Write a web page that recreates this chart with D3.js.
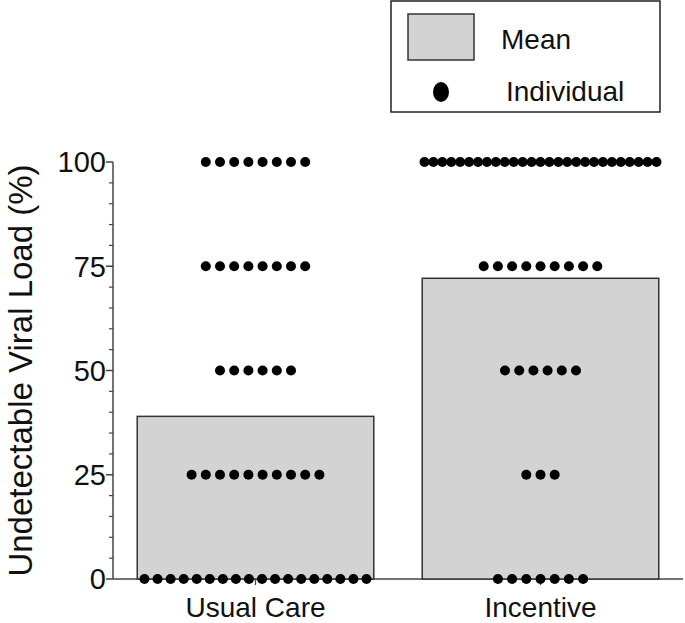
<!DOCTYPE html>
<html>
<head>
<meta charset="utf-8">
<script src="https://cdn.jsdelivr.net/npm/d3@7"></script>
<style>
  body { margin: 0; background: #fff; }
  text { font-family: "Liberation Sans", Arial, sans-serif; fill: #111; }
</style>
</head>
<body>
<svg id="chart" width="685" height="623"></svg>
<script>
// data
const groups = ["Usual Care", "Incentive"];
const levels = [0, 25, 50, 75, 100];
// number of individuals at each level (same order as levels)
const usualCareCounts = [18, 10, 6, 8, 8];
const incentiveCounts = [7, 3, 6, 9, 27];
const yTicks = [0, 25, 50, 75, 100];
const yLabel = "Undetectable Viral Load (%)";

const counts = [usualCareCounts, incentiveCounts];

var svg = d3.select("#chart");
var plotLeft = 113, plotRight = 683, plotTop = 162, plotBottom = 579;

var x = d3.scaleBand()
    .domain(groups)
    .range([plotLeft, plotRight])
    .paddingInner(0.17)
    .paddingOuter(0.085);

var y = d3.scaleLinear()
    .domain([0, 100])
    .range([plotBottom, plotTop]);

// means from the individual counts
var means = counts.map(c => {
    var n = d3.sum(c);
    return d3.sum(c, (k, i) => k * levels[i]) / n;
});

// y axis
var yAxis = svg.append("g")
    .attr("transform", "translate(" + plotLeft + ",0)");
yAxis.append("line")
    .attr("y1", y(0)).attr("y2", y(100))
    .attr("stroke", "#444").attr("stroke-width", 1.5);
yAxis.selectAll(".minor")
    .data(d3.range(0, 101, 5).filter(v => v % 25 != 0))
    .enter().append("line")
    .attr("x1", -4).attr("x2", 0)
    .attr("y1", d => y(d)).attr("y2", d => y(d))
    .attr("stroke", "#444").attr("stroke-width", 1.2);
yAxis.selectAll(".major")
    .data(yTicks)
    .enter().append("line")
    .attr("x1", -7).attr("x2", 0)
    .attr("y1", d => y(d)).attr("y2", d => y(d))
    .attr("stroke", "#444").attr("stroke-width", 1.5);
yAxis.selectAll("text")
    .data(yTicks)
    .enter().append("text")
    .attr("x", -7)
    .attr("y", d => y(d))
    .attr("dy", "0.36em")
    .attr("text-anchor", "end")
    .style("font-size", "29px")
    .text(d => d);

svg.append("text")
    .attr("transform", "translate(32," + ((plotTop + plotBottom) / 2) + ") rotate(-90)")
    .attr("text-anchor", "middle")
    .style("font-size", "33px")
    .text(yLabel);

// x axis
svg.append("line")
    .attr("x1", plotLeft).attr("x2", plotRight)
    .attr("y1", plotBottom).attr("y2", plotBottom)
    .attr("stroke", "#444").attr("stroke-width", 1.5);
svg.selectAll(".xtick")
    .data(groups)
    .enter().append("line")
    .attr("x1", d => x(d) + x.bandwidth() / 2)
    .attr("x2", d => x(d) + x.bandwidth() / 2)
    .attr("y1", plotBottom).attr("y2", plotBottom + 6)
    .attr("stroke", "#444").attr("stroke-width", 1.2);
svg.selectAll(".xlabel")
    .data(groups)
    .enter().append("text")
    .attr("x", d => x(d) + x.bandwidth() / 2)
    .attr("y", 617)
    .attr("text-anchor", "middle")
    .style("font-size", "28px")
    .text(d => d);

// mean bars
svg.selectAll(".bar")
    .data(groups)
    .enter().append("rect")
    .attr("x", d => x(d))
    .attr("width", x.bandwidth())
    .attr("y", (d, i) => y(means[i]))
    .attr("height", (d, i) => y(0) - y(means[i]))
    .attr("fill", "#d3d3d3")
    .attr("stroke", "#333")
    .attr("stroke-width", 1.5);

// individual dots, each row centred on its group
var dots = [];
groups.forEach((g, gi) => {
    var cx = x(g) + x.bandwidth() / 2;
    levels.forEach((lv, li) => {
        var n = counts[gi][li];
        var step = Math.min(14.2, (n > 20 ? 232 : 222) / Math.max(n - 1, 1));
        for (var k = 0; k < n; k++) {
            dots.push({ x: cx + (k - (n - 1) / 2) * step, v: lv });
        }
    });
});
svg.append("g")
    .selectAll("circle")
    .data(dots)
    .enter().append("circle")
    .attr("cx", d => d.x)
    .attr("cy", d => y(d.v))
    .attr("r", 5)
    .attr("fill", "#000");

// legend
var legend = svg.append("g");
legend.append("rect")
    .attr("x", 391).attr("y", 1)
    .attr("width", 269).attr("height", 111)
    .attr("fill", "#fff").attr("stroke", "#222").attr("stroke-width", 1.5);
legend.append("rect")
    .attr("x", 408).attr("y", 14)
    .attr("width", 66).attr("height", 46)
    .attr("fill", "#d3d3d3").attr("stroke", "#333").attr("stroke-width", 1.5);
legend.append("text")
    .attr("x", 501).attr("y", 49)
    .style("font-size", "28px")
    .text("Mean");
legend.append("ellipse")
    .attr("cx", 441).attr("cy", 92)
    .attr("rx", 8).attr("ry", 10)
    .attr("fill", "#000");
legend.append("text")
    .attr("x", 506).attr("y", 101)
    .style("font-size", "28px")
    .text("Individual");
</script>
</body>
</html>
